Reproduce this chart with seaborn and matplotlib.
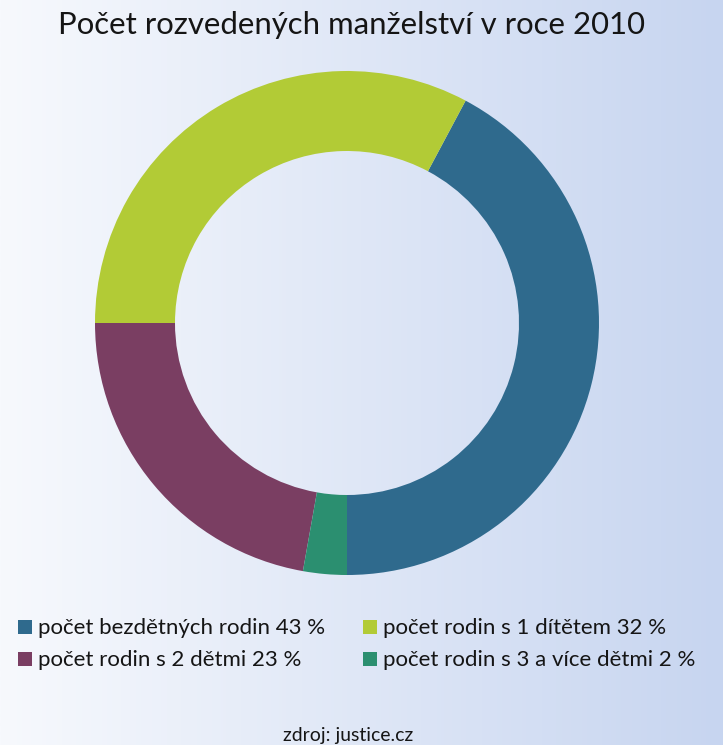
import numpy as np
import matplotlib
matplotlib.use("Agg")
import matplotlib.pyplot as plt
import matplotlib.patches as mpatches
import seaborn as sns

categories = ["počet bezdětných rodin", "počet rodin s 1 dítětem",
              "počet rodin s 2 dětmi", "počet rodin s 3 a více dětmi"]
label_pct = [43, 32, 23, 2]
values = [42.2, 32.8, 22.2, 2.8]
colors = ["#2f6a8d", "#b2cb36", "#7a3e62", "#2b8f70"]
title = "Počet rozvedených manželství v roce 2010"
source = "zdroj: justice.cz"

sns.set_style("white")
plt.rcParams['font.family'] = ['Lato', 'DejaVu Sans']

W, H = 723, 745
fig = plt.figure(figsize=(W / 100, H / 100), dpi=100)

# background gradient
bg = fig.add_axes([0, 0, 1, 1], zorder=-10)
left = np.array([247, 249, 253]) / 255
right = np.array([199, 213, 240]) / 255
t = np.linspace(0, 1, 256)
grad = left[None, :] * (1 - t[:, None]) + right[None, :] * t[:, None]
bg.imshow(grad[None, :, :], aspect="auto", extent=[0, 1, 0, 1])
bg.axis("off")

cx, cy, R = 347, 323, 252
ax = fig.add_axes([(cx - R) / W, (H - cy - R) / H, 2 * R / W, 2 * R / H])
ax.patch.set_alpha(0)
ax.pie(values, colors=colors, startangle=270, counterclock=True,
       wedgeprops=dict(width=80 / R, linewidth=0))
ax.set_xlim(-1, 1)
ax.set_ylim(-1, 1)
ax.set_aspect("equal")
ax.axis("off")


def fit(txt, target_px):
    fig.canvas.draw()
    w = txt.get_window_extent().width
    txt.set_fontsize(txt.get_fontsize() * target_px / w)


tcol = "#151515"
ttl = fig.text(351 / W, 1 - 25 / H, title, ha="center", va="center",
               fontsize=27, color=tcol)
fit(ttl, 588)

labels = [f"{c} {p} %" for c, p in zip(categories, label_pct)]
# row-major layout: two columns, two rows
sq_x = [18, 363, 18, 363]
row_y = [627, 627, 659, 659]
widths = [287, 286, 264, 321]
legend_texts = []
for i, (lab, col) in enumerate(zip(labels, colors)):
    fig.patches.append(mpatches.Rectangle(
        (sq_x[i] / W, (H - row_y[i] - 7) / H), 14 / W, 14 / H,
        transform=fig.transFigure, facecolor=col, edgecolor="none"))
    tx = fig.text((sq_x[i] + 20) / W, 1 - (row_y[i] + 1) / H, lab,
                  ha="left", va="center", fontsize=16, color=tcol)
    legend_texts.append(tx)
fit(legend_texts[0], widths[0])
fs = legend_texts[0].get_fontsize()
for tx in legend_texts:
    tx.set_fontsize(fs)

src = fig.text(348 / W, 1 - 735 / H, source, ha="center", va="center",
               fontsize=12.5, color=tcol)
fit(src, 130)

fig.savefig("out.png", dpi=100)
